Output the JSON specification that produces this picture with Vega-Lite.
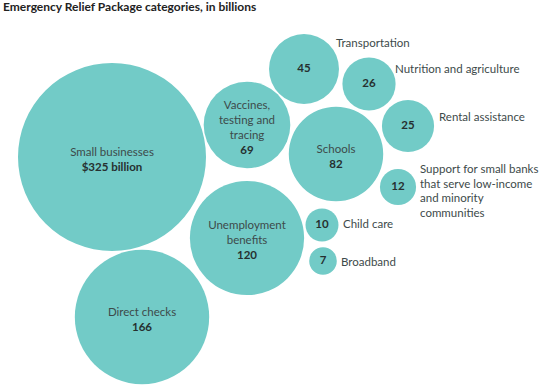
{
  "$schema": "https://vega.github.io/schema/vega-lite/v6.json",
  "width": 544,
  "height": 367,
  "autosize": "none",
  "padding": {"top": 20, "left": 0, "right": 0, "bottom": 0},
  "background": "white",
  "title": {"text": "Emergency Relief Package categories, in billions", "anchor": "start", "frame": "group", "font": "Lato", "fontSize": 12, "fontWeight": "bold", "color": "#222222", "offset": 6, "dx": 3},
  "config": {"view": {"stroke": null}},
  "data": {"values": [
    {"name": "Small businesses", "value": 325, "valueLabel": "$325 billion", "x": 112, "y": 157, "inside": true},
    {"name": "Direct checks", "value": 166, "valueLabel": "166", "x": 142, "y": 317, "inside": true},
    {"name": "Unemployment\nbenefits", "value": 120, "valueLabel": "120", "x": 247, "y": 238, "inside": true},
    {"name": "Vaccines,\ntesting and\ntracing", "value": 69, "valueLabel": "69", "x": 247, "y": 125, "inside": true},
    {"name": "Schools", "value": 82, "valueLabel": "82", "x": 336, "y": 154, "inside": true},
    {"name": "Transportation", "value": 45, "valueLabel": "45", "x": 304, "y": 69, "inside": false, "lx": 336, "ly": 44},
    {"name": "Nutrition and agriculture", "value": 26, "valueLabel": "26", "x": 369, "y": 84, "inside": false, "lx": 395, "ly": 70},
    {"name": "Rental assistance", "value": 25, "valueLabel": "25", "x": 408, "y": 126, "inside": false, "lx": 439, "ly": 118},
    {"name": "Support for small banks\nthat serve low-income\nand minority\ncommunities", "value": 12, "valueLabel": "12", "x": 398, "y": 187, "inside": false, "lx": 420, "ly": 170},
    {"name": "Child care", "value": 10, "valueLabel": "10", "x": 322, "y": 225, "inside": false, "lx": 343, "ly": 225},
    {"name": "Broadband", "value": 7, "valueLabel": "7", "x": 323, "y": 261, "inside": false, "lx": 341, "ly": 263}
  ]},
  "transform": [
    {"calculate": "length(split(datum.name, '\\n'))", "as": "k"},
    {"calculate": "datum.inside ? datum.y + 3 + 7.5 * datum.k : datum.y", "as": "numY"},
    {"calculate": "datum.inside ? datum.y + 3 - 7.5 * datum.k : datum.ly", "as": "nameY"},
    {"calculate": "datum.inside ? datum.x : datum.lx", "as": "nameX"}
  ],
  "layer": [
    {
      "mark": {"type": "circle", "color": "#72cbc7", "opacity": 1, "strokeWidth": 0},
      "encoding": {
        "x": {"field": "x", "type": "quantitative", "scale": {"domain": [0, 544], "nice": false, "zero": false}, "axis": null},
        "y": {"field": "y", "type": "quantitative", "scale": {"domain": [20, 387], "nice": false, "zero": false, "reverse": true}, "axis": null},
        "size": {"field": "value", "type": "quantitative", "scale": {"type": "linear", "domain": [0, 325], "range": [0, 35344], "zero": true}, "legend": null}
      }
    },
    {
      "transform": [{"filter": "datum.inside"}],
      "mark": {"type": "text", "font": "Lato", "fontSize": 11.5, "color": "#3d4a4a", "lineBreak": "\n", "lineHeight": 15, "align": "center", "baseline": "middle"},
      "encoding": {
        "x": {"field": "nameX", "type": "quantitative"},
        "y": {"field": "nameY", "type": "quantitative"},
        "text": {"field": "name"}
      }
    },
    {
      "transform": [{"filter": "!datum.inside"}],
      "mark": {"type": "text", "font": "Lato", "fontSize": 11.5, "color": "#3d4a4a", "lineBreak": "\n", "lineHeight": 14.5, "align": "left", "baseline": "middle"},
      "encoding": {
        "x": {"field": "nameX", "type": "quantitative"},
        "y": {"field": "nameY", "type": "quantitative"},
        "text": {"field": "name"}
      }
    },
    {
      "mark": {"type": "text", "font": "Lato", "fontSize": 11.5, "fontWeight": "bold", "color": "#263030", "align": "center", "baseline": "middle"},
      "encoding": {
        "x": {"field": "x", "type": "quantitative"},
        "y": {"field": "numY", "type": "quantitative"},
        "text": {"field": "valueLabel"}
      }
    }
  ]
}
